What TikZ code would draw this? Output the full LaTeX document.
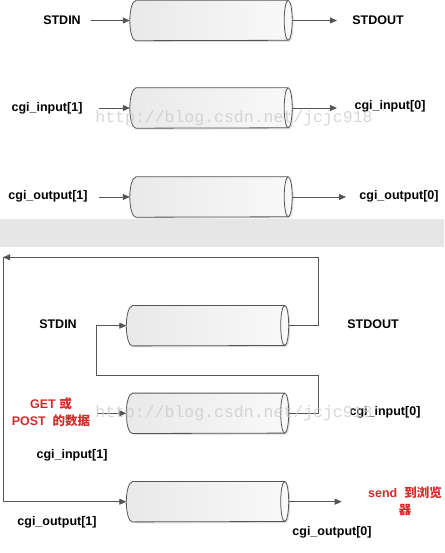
\documentclass[tikz,border=0pt]{standalone}
\usepackage{fontspec}
\setmainfont{Liberation Sans}
\newfontfamily\cjk{Noto Sans CJK SC}
\newfontfamily\wmfont{Liberation Mono}
\usetikzlibrary{arrows.meta}
\definecolor{pipeline}{HTML}{555555}
\definecolor{pipefill}{HTML}{E9E9E9}
\definecolor{pipelight}{HTML}{F9F9F9}
\definecolor{bandgray}{HTML}{E6E6E6}
\definecolor{notered}{HTML}{D42A2A}
\tikzset{
  pipe/.style={rectangle, inner sep=0pt, minimum width=162pt, minimum height=40pt},
  pipebody/.style={draw=pipeline, line width=0.8pt, left color=pipefill, right color=pipelight},
  pipeshadow/.style={fill=black, opacity=0.12, transform canvas={shift={(1.5pt,-1.5pt)}}},
  flow/.style={draw=pipeline, line width=0.8pt, -{Triangle[length=7pt,width=6pt]}},
  lbl/.style={font=\bfseries\fontsize{12.5}{15}\selectfont},
  note/.style={text=notered, align=center, font=\bfseries\fontsize{12.5}{17}\selectfont},
  wmtext/.style={text=gray!40, opacity=0.8, font=\wmfont\fontsize{16.5}{18}\selectfont}
}
% outline of a lying cylinder laid over the named rectangle
\newcommand\pipeoutline[1]{([xshift=6pt]#1.north west) -- ([xshift=-4pt]#1.north east)
  arc[start angle=90, end angle=-90, x radius=4pt, y radius=20pt]
  -- ([xshift=6pt]#1.south west)
  arc[start angle=270, end angle=90, x radius=6pt, y radius=20pt] -- cycle}
\begin{document}
\begin{tikzpicture}[x=1pt,y=-1pt]
  \useasboundingbox (0,0) rectangle (444,553);
  \fill[bandgray] (0,219) rectangle (444,247);

  % three pipes, stdio view
  \node[pipe] (p1) at (211,20.5) {};
  \node[pipe] (p2) at (211,108) {};
  \node[pipe] (p3) at (211,197) {};
  % redirected pipes
  \node[pipe] (q1) at (207.5,325.7) {};
  \node[pipe] (q2) at (207.5,413.3) {};
  \node[pipe] (q3) at (207.5,501.7) {};

  \foreach \p in {p1,p2,p3,q1,q2,q3} {
    \fill[pipeshadow] \pipeoutline{\p};
    \shade[pipebody] \pipeoutline{\p};
    \draw[pipeline, line width=0.8pt] ([xshift=-4pt]\p.north east)
      arc[start angle=90, end angle=270, x radius=4pt, y radius=20pt];
  }

  \node[lbl] (stdin1) at (62,20) {STDIN};
  \node[lbl] (stdout1) at (378,20) {STDOUT};
  \node[lbl] (in1a) at (47,108) {cgi\_input[1]};
  \node[lbl] (in0a) at (390,106) {cgi\_input[0]};
  \node[lbl] (out1a) at (48,196) {cgi\_output[1]};
  \node[lbl] (out0a) at (399,196) {cgi\_output[0]};

  \coordinate (s1) at (91,20.5);
  \coordinate (t1) at (337,20.5);
  \coordinate (s2) at (99,108);
  \coordinate (t2) at (337,108);
  \coordinate (s3) at (99,197);
  \coordinate (t3) at (346,197);
  \draw[flow] (s1) -- (p1.west);
  \draw[flow] (p1.east) -- (t1);
  \draw[flow] (s2) -- (p2.west);
  \draw[flow] (p2.east) -- (t2);
  \draw[flow] (s3) -- (p3.west);
  \draw[flow] (p3.east) -- (t3);

  \coordinate (loopne) at (318,257.3);
  \coordinate (loopnw) at (3,257.3);
  \coordinate (innere) at (318,375.3);
  \coordinate (innerw) at (96.3,375.3);
  \coordinate (getpt) at (97,413.3);
  \coordinate (sendpt) at (341.7,501.7);
  \draw[flow] (q1.east) -| (loopne) -- (loopnw);
  \draw[flow] (loopnw) |- (q3.west);
  \draw[flow] (q2.east) -| (innere) -- (innerw) |- (q1.west);
  \draw[flow] (getpt) -- (q2.west);
  \draw[flow] (q3.east) -- (sendpt);

  \node[lbl] (stdin2) at (58,324) {STDIN};
  \node[lbl] (stdout2) at (373,324) {STDOUT};
  \node[note] (getpost) at (51,412.5) {GET {\cjk 或}\\POST\ \ {\cjk 的数据}};
  \node[lbl] (in0b) at (385,412.7) {cgi\_input[0]};
  \node[lbl] (in1b) at (72,455) {cgi\_input[1]};
  \node[note] (send) at (405,501) {send\ \ {\cjk 到浏览}\\{\cjk 器}};
  \node[lbl] (out1b) at (57,522.7) {cgi\_output[1]};
  \node[lbl] (out0b) at (332,532.7) {cgi\_output[0]};

  \node[wmtext] (wm1) at (234,118) {http://blog.csdn.net/jcjc918};
  \node[wmtext] (wm2) at (234,413) {http://blog.csdn.net/jcjc918};
\end{tikzpicture}
\end{document}
